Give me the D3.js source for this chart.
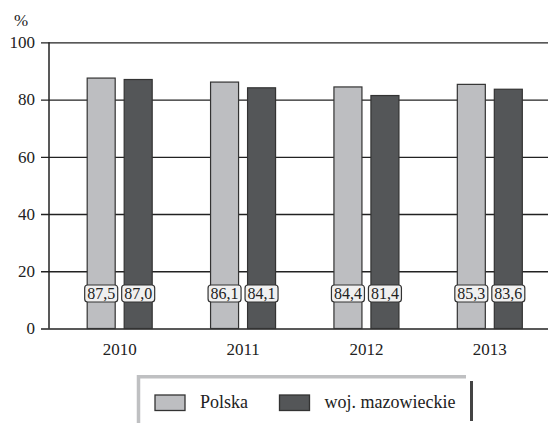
<!DOCTYPE html>
<html>
<head>
<meta charset="utf-8">
<script src="https://cdn.jsdelivr.net/npm/d3@7"></script>
<style>
  html, body { margin: 0; padding: 0; background: #fff; }
  svg { display: block; }
  svg text { font-family: "Times New Roman", "Liberation Serif", Tinos, Times, "Nimbus Roman", serif !important; }
</style>
</head>
<body>
<svg id="chart" width="548" height="423"></svg>
<script>
// Share of ... (%), Polska vs. woj. mazowieckie
const years = ["2010", "2011", "2012", "2013"];
const seriesNames = ["Polska", "woj. mazowieckie"];
const polska = [87.5, 86.1, 84.4, 85.3];
const mazowieckie = [87.0, 84.1, 81.4, 83.6];
const yTicks = [0, 20, 40, 60, 80, 100];
const colors = ["#bdbec1", "#545658"];

const svg = d3.select("#chart");

const y = d3.scaleLinear().domain([0, 100]).range([328.5, 42.3]);
const x0 = d3.scaleBand().domain(years).range([58, 551.5]).padding(0);
const x1 = d3.scaleBand().domain(seriesNames).range([-32.5, 32.5]).paddingInner(0.243);

const fmt = v => d3.format(".1f")(v).replace(".", ",");

// gridlines + tick labels
const yAxis = d3.axisLeft(y).tickValues(yTicks).tickSize(-(548 - 41)).tickPadding(6);
const gy = svg.append("g").attr("transform", "translate(41,0)").call(yAxis);
gy.select(".domain").remove();
gy.selectAll(".tick line").attr("stroke", "#222").attr("stroke-width", 1.3);
gy.selectAll(".tick text").attr("fill", "#222").style("font-size", "17px");

// vertical axis line
svg.append("line")
  .attr("x1", 49).attr("x2", 49)
  .attr("y1", y(100)).attr("y2", y(0))
  .attr("stroke", "#222").attr("stroke-width", 1.5);

// unit label
svg.append("text").attr("x", 14).attr("y", 26)
  .attr("fill", "#222").style("font-size", "17px").text("%");

// bars
const rows = years.map((yr, i) => ({ year: yr, values: [polska[i], mazowieckie[i]] }));
const groups = svg.append("g").selectAll("g").data(rows).join("g")
  .attr("transform", d => `translate(${x0(d.year) + x0.bandwidth() / 2},0)`);

const cells = groups.selectAll("g").data(d => d.values.map((v, j) => ({ name: seriesNames[j], v, j })))
  .join("g");

cells.append("rect")
  .attr("x", d => x1(d.name))
  .attr("width", x1.bandwidth())
  .attr("y", d => y(d.v))
  .attr("height", d => y(0) - y(d.v))
  .attr("fill", d => colors[d.j])
  .attr("stroke", "#333")
  .attr("stroke-width", 1.2);

// value labels in rounded boxes
cells.append("rect")
  .attr("x", d => x1(d.name) + x1.bandwidth() / 2 - 16.5)
  .attr("y", 285)
  .attr("width", 33).attr("height", 17)
  .attr("rx", 3).attr("ry", 3)
  .attr("fill", "#f0f0f0").attr("stroke", "#333").attr("stroke-width", 1.2);

cells.append("text")
  .attr("x", d => x1(d.name) + x1.bandwidth() / 2)
  .attr("y", 299)
  .attr("text-anchor", "middle")
  .attr("fill", "#222")
  .style("font-size", "16px")
  .text(d => fmt(d.v));

// category labels
const xAxis = d3.axisBottom(x0).tickSize(0).tickPadding(0);
const gx = svg.append("g").attr("transform", "translate(0,343)").call(xAxis);
gx.select(".domain").remove();
gx.selectAll(".tick text").attr("fill", "#222").attr("dy", "0.71em")
  .style("font-size", "17px");

// legend frame
svg.append("path")
  .attr("d", "M138.5,423 V376.8 H466")
  .attr("fill", "none").attr("stroke", "#bfc0c2").attr("stroke-width", 3.5);
svg.append("line")
  .attr("x1", 471.5).attr("x2", 471.5).attr("y1", 381).attr("y2", 421)
  .attr("stroke", "#444").attr("stroke-width", 3);

const legendX = [155, 279.5];
const legend = svg.append("g").selectAll("g").data(seriesNames).join("g")
  .attr("transform", (d, i) => `translate(${legendX[i]},395)`);
legend.append("rect")
  .attr("width", 30).attr("height", 15.5)
  .attr("fill", (d, i) => colors[i]).attr("stroke", "#333").attr("stroke-width", 1.3);
legend.append("text")
  .attr("x", 45).attr("y", 13)
  .attr("fill", "#222").style("font-size", "18px")
  .text(d => d);
</script>
</body>
</html>
